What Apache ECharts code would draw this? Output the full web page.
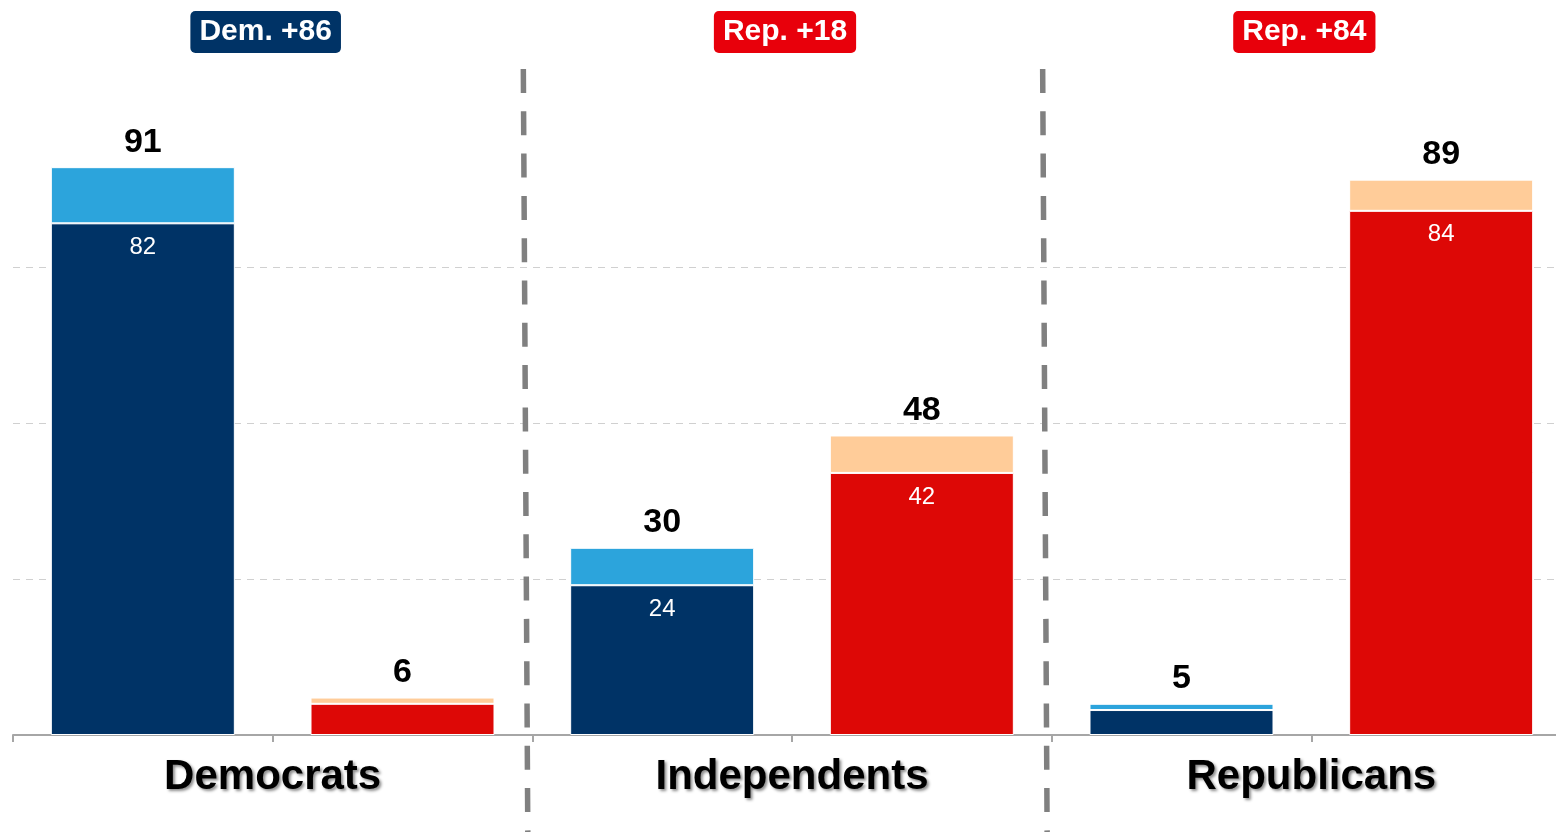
<!DOCTYPE html>
<html><head><meta charset="utf-8">
<script src="https://cdn.jsdelivr.net/npm/echarts@6/dist/echarts.min.js"></script>
<style>html,body{margin:0;padding:0;background:#fff;overflow:hidden;width:1556px;height:832px}#c{width:1571px;height:832px}</style>
</head><body><div id="c"></div>
<script>
// ---- data ----
const barCategories = ['Democrats: Dem.', 'Democrats: Rep.', 'Independents: Dem.', 'Independents: Rep.', 'Republicans: Dem.', 'Republicans: Rep.'];
const groups = ['Democrats', 'Independents', 'Republicans'];
const marginLabels = ['Dem. +86', 'Rep. +18', 'Rep. +84'];
const marginParty = ['dem', 'rep', 'rep'];
const totals = [91, 6, 30, 48, 5, 89];     // total incl. leaners
const strong = [82, 5, 24, 42, 4, 84];     // firm support
const yTicks = [0, 25, 50, 75, 100];

// ---- style ----
const FONT = 'Arial, "Liberation Sans", sans-serif';
const C = { demDark: '#003366', demLight: '#2ca4dc', repDark: '#dd0806', repLight: '#ffcc99', badgeDem: '#003366', badgeRep: '#e8000b' };
const lean = totals.map((t, i) => t - strong[i]);

const chart = echarts.init(document.getElementById('c'), null, { renderer: 'canvas' });
const option = {
  animation: false,
  backgroundColor: '#fff',
  grid: { left: 13, right: 0, top: 111, bottom: 97, containLabel: false },
  xAxis: [
    {
      type: 'category', data: barCategories, gridIndex: 0, position: 'bottom',
      axisLine: { show: true, lineStyle: { color: '#a6a6a6', width: 2 } },
      axisTick: { show: true, length: 7, lineStyle: { color: '#a6a6a6', width: 2 } },
      axisLabel: { show: false }, splitLine: { show: false }
    },
    {
      type: 'category', data: groups, gridIndex: 0, position: 'bottom',
      axisLine: { show: false }, axisTick: { show: false }, splitLine: { show: false },
      axisLabel: {
        show: true, margin: 21, fontSize: 42, fontWeight: 'bold', color: '#000', fontFamily: FONT,
        textShadowColor: 'rgba(0,0,0,0.45)', textShadowBlur: 3, textShadowOffsetX: 2, textShadowOffsetY: 2
      }
    },
    {
      type: 'category', data: marginLabels, gridIndex: 0, position: 'top',
      axisLine: { show: false }, axisTick: { show: false }, splitLine: { show: false },
      axisLabel: {
        show: true, margin: 64,
        formatter: (v, i) => '{' + marginParty[i] + '|' + v + '}{sp| }',
        rich: {
          dem: { backgroundColor: C.badgeDem, color: '#fff', fontSize: 30, fontWeight: 'bold', fontFamily: FONT, padding: [6, 9, 6, 9], borderRadius: 5, lineHeight: 30 },
          rep: { backgroundColor: C.badgeRep, color: '#fff', fontSize: 30, fontWeight: 'bold', fontFamily: FONT, padding: [6, 9, 6, 9], borderRadius: 5, lineHeight: 30 },
          sp: { width: 14, fontSize: 30, lineHeight: 30 }
        }
      }
    }
  ],
  yAxis: {
    type: 'value', min: yTicks[0], max: yTicks[yTicks.length - 1], interval: 25,
    axisLine: { show: false }, axisTick: { show: false }, axisLabel: { show: false },
    splitLine: { show: true, showMinLine: false, showMaxLine: false, lineStyle: { color: '#d0d0d0', width: 1, type: [7, 6] } }
  },
  series: [
    {
      name: 'Firm', type: 'bar', stack: 'v', data: strong, barWidth: 184, xAxisIndex: 0,
      itemStyle: { color: p => p.dataIndex % 2 === 0 ? C.demDark : C.repDark, borderColor: '#fff', borderWidth: 1 },
      label: {
        show: true, position: 'insideTop', distance: 12,
        formatter: p => p.value >= 10 ? String(p.value) : '',
        color: '#fff', fontSize: 24, fontFamily: FONT
      }
    },
    {
      name: 'Lean', type: 'bar', stack: 'v', data: lean, barWidth: 184, xAxisIndex: 0,
      itemStyle: { color: p => p.dataIndex % 2 === 0 ? C.demLight : C.repLight, borderColor: '#fff', borderWidth: 1 },
      label: {
        show: true, position: 'top', distance: 8,
        formatter: p => String(totals[p.dataIndex]),
        color: '#000', fontSize: 34, fontWeight: 'bold', fontFamily: FONT
      }
    }
  ]
};
chart.setOption(option);

// dashed group dividers, positioned from the group axis
const g0 = chart.convertToPixel({ xAxisIndex: 1 }, groups[0]);
const g1 = chart.convertToPixel({ xAxisIndex: 1 }, groups[1]);
const band = g1 - g0;
const yTop = chart.convertToPixel({ yAxisIndex: 0 }, yTicks[yTicks.length - 1]) - 42;
const graphics = [];
for (let k = 0; k < groups.length - 1; k++) {
  const b = chart.convertToPixel({ xAxisIndex: 1 }, groups[k]) + band / 2;
  graphics.push({
    type: 'line', z: 10, silent: true,
    shape: { x1: b - 9, y1: yTop, x2: b - 4.5, y2: 840 },
    style: { stroke: '#808080', lineWidth: 5.5, lineDash: [24, 18.3] }
  });
}
chart.setOption({ graphic: graphics });
</script>
</body></html>
